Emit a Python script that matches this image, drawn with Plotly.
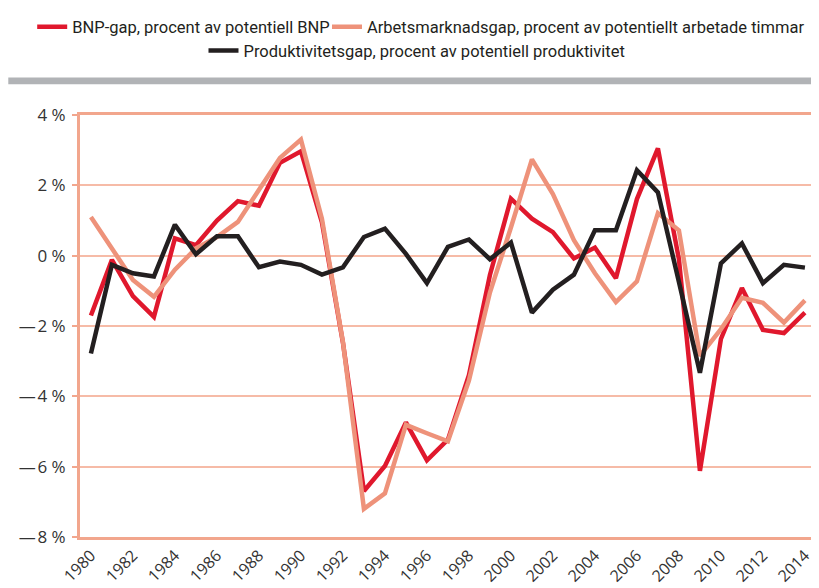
import plotly.graph_objects as go

years = list(range(1980, 2015))

bnp_gap = [-1.70, -0.12, -1.15, -1.74, 0.49, 0.30, 1.00, 1.55, 1.42, 2.64,
           2.97, 0.95, -2.47, -6.69, -5.98, -4.74, -5.82, -5.23, -3.40, -0.55,
           1.62, 1.05, 0.67, -0.08, 0.23, -0.64, 1.61, 3.05, -0.10, -6.12,
           -2.37, -0.92, -2.11, -2.20, -1.62]

arbets_gap = [1.10, 0.20, -0.69, -1.17, -0.40, 0.21, 0.53, 0.96, 1.85, 2.78,
              3.30, 1.05, -2.45, -7.20, -6.76, -4.81, -5.05, -5.28, -3.55, -1.05,
              0.80, 2.74, 1.75, 0.44, -0.50, -1.32, -0.73, 1.21, 0.72, -2.85,
              -2.09, -1.20, -1.34, -1.90, -1.27]

prod_gap = [-2.78, -0.26, -0.50, -0.59, 0.88, 0.04, 0.55, 0.55, -0.33, -0.17,
            -0.26, -0.54, -0.33, 0.53, 0.77, 0.05, -0.78, 0.25, 0.46, -0.10,
            0.37, -1.62, -0.97, -0.54, 0.72, 0.72, 2.43, 1.80, -0.75, -3.33,
            -0.22, 0.35, -0.78, -0.26, -0.34]

series_names = ["BNP-gap, procent av potentiell BNP",
                "Arbetsmarknadsgap, procent av potentiellt arbetade timmar",
                "Produktivitetsgap, procent av potentiell produktivitet"]

y_tickvals = [-8, -6, -4, -2, 0, 2, 4]
y_ticktext = ["\u2014\u200a8 %", "\u2014\u200a6 %", "\u2014\u200a4 %", "\u2014\u200a2 %",
              "0 %", "2 %", "4 %"]
x_tickvals = list(range(1980, 2015, 2))
x_ticktext = [str(v) for v in x_tickvals]

RED = "#E0182D"
SALMON = "#EE927A"
BLACK = "#231F20"
AXIS = "#F2A68D"
GRID = "#F6BBA7"

fig = go.Figure()
fig.add_trace(go.Scatter(x=years, y=bnp_gap, mode="lines", name=series_names[0],
                         line=dict(color=RED, width=4.5), legend="legend"))
fig.add_trace(go.Scatter(x=years, y=arbets_gap, mode="lines", name=series_names[1],
                         line=dict(color=SALMON, width=4.5), legend="legend2"))
fig.add_trace(go.Scatter(x=years, y=prod_gap, mode="lines", name=series_names[2],
                         line=dict(color=BLACK, width=4.5), legend="legend3"))

# page has an 8px body margin; work in figure coordinates
OFF = 8
W, H = 819 - OFF, 588 - OFF
L, R, T, B = 80 - OFF, 818 - OFF, 110 - OFF, 537 - OFF
pw, ph = R - L, B - T

def px_x(p):
    return (p - OFF - L) / pw

def px_y(p):
    return (B - (p - OFF)) / ph

legfont = dict(family="Roboto, Liberation Sans, sans-serif", size=16.5, color="#231F20")
common_leg = dict(orientation="h", xanchor="left", yanchor="middle", font=legfont,
                  bgcolor="rgba(0,0,0,0)", borderwidth=0, tracegroupgap=0)

fig.update_layout(
    width=W, height=H,
    margin=dict(l=L, r=W - R, t=T, b=H - B, pad=0),
    paper_bgcolor="white", plot_bgcolor="white",
    showlegend=True,
    legend=dict(x=px_x(32), y=px_y(21), **common_leg),
    legend2=dict(x=px_x(328), y=px_y(21), **common_leg),
    legend3=dict(x=px_x(204), y=px_y(45), **common_leg),
    xaxis=dict(range=[1979.48, 2014.48], tickmode="array", tickvals=x_tickvals,
               ticktext=x_ticktext, tickangle=-45, showgrid=False, zeroline=False,
               showline=True, linecolor=AXIS, linewidth=3, mirror=True, ticks="",
               tickfont=dict(family="Open Sans, sans-serif", size=16, color="#333333")),
    yaxis=dict(range=[-8, 4], tickmode="array", tickvals=y_tickvals, ticktext=y_ticktext,
               showgrid=True, gridcolor=GRID, gridwidth=1.5, zeroline=False,
               showline=True, linecolor=AXIS, linewidth=3, mirror=True,
               ticks="outside", ticklen=5, tickwidth=2, tickcolor=AXIS,
               ticklabelstandoff=3,
               tickfont=dict(family="Open Sans, sans-serif", size=17, color="#333333")),
    shapes=[dict(type="rect", xref="paper", yref="paper",
                 x0=px_x(8), x1=px_x(819), y0=px_y(79), y1=px_y(72),
                 fillcolor="#B1B3B6", line=dict(width=0), layer="above")],
)

fig.write_html("out.html")
